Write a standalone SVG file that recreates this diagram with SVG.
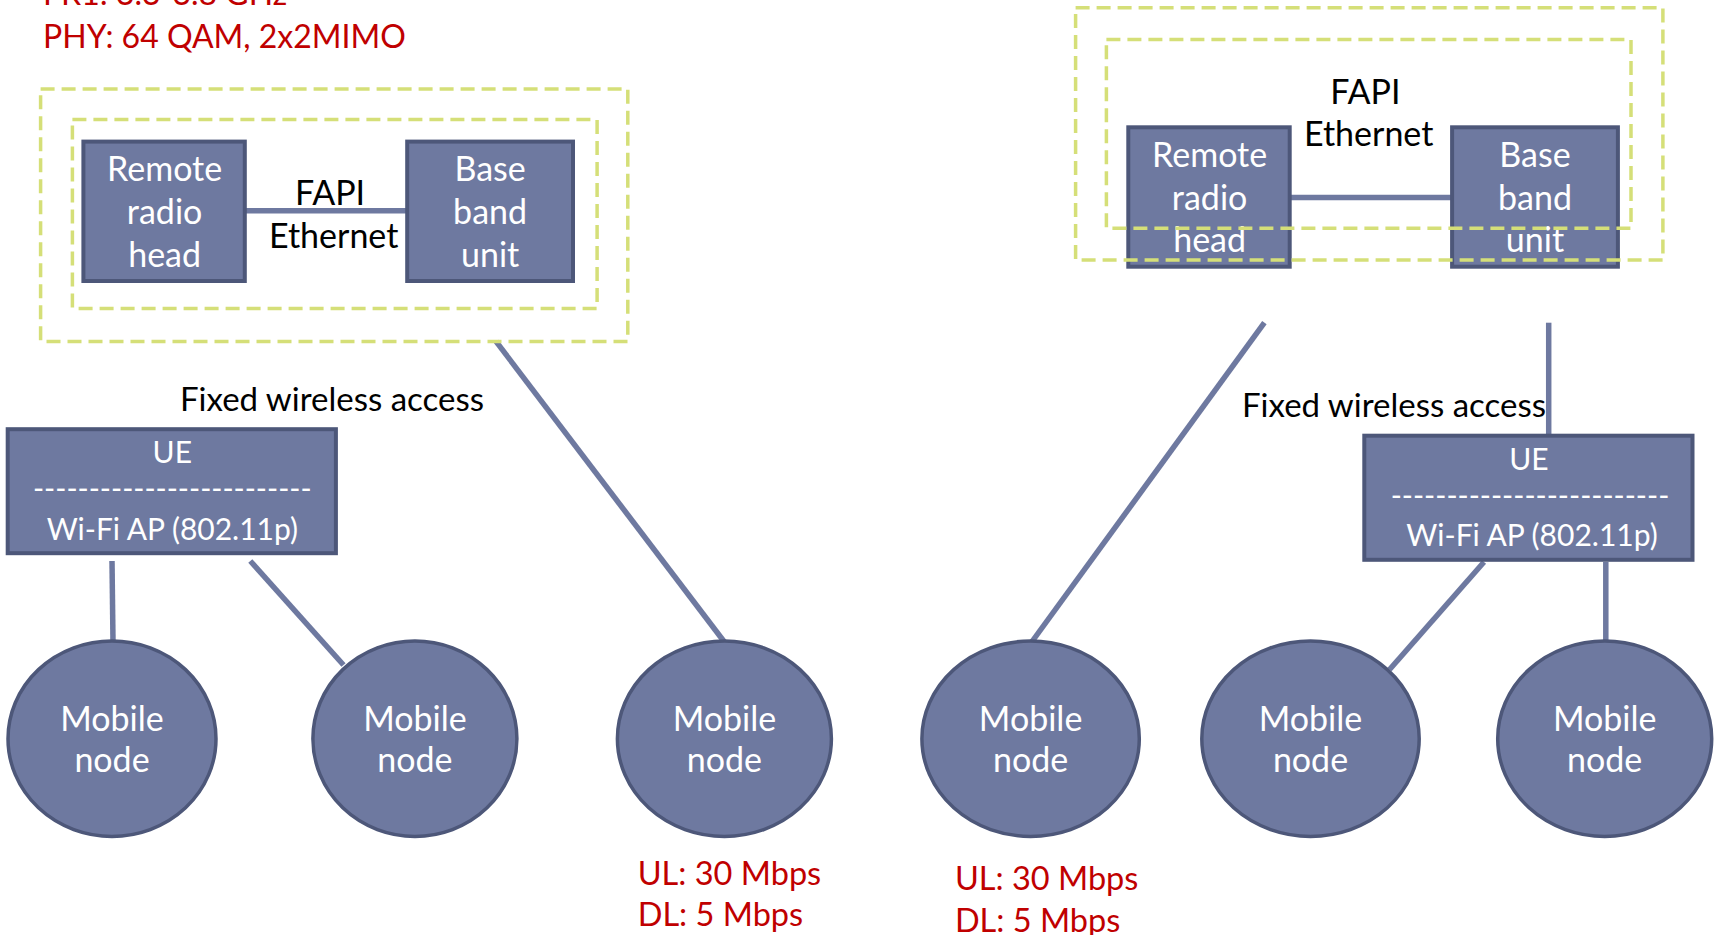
<svg xmlns="http://www.w3.org/2000/svg" width="1721" height="935" viewBox="0 0 1721 935">
  <defs>
    <style>
      .box { fill: #6e79a0; stroke: #4d5779; stroke-width: 4; }
      .node { fill: #6e79a0; stroke: #4d5779; stroke-width: 3.5; }
      .dash { fill: none; stroke: #d5df78; stroke-width: 3.5; stroke-dasharray: 14 7; }
      .conn { stroke: #6e79a0; stroke-width: 5.5; fill: none; stroke-linecap: butt; }
      .wt { font-family: Lato, "Liberation Sans", sans-serif; fill: #ffffff; text-anchor: middle; }
      .bk { font-family: Lato, "Liberation Sans", sans-serif; fill: #000000; text-anchor: middle; }
      .rd { font-family: Lato, "Liberation Sans", sans-serif; fill: #c00000; }
      .big { font-size: 34px; }
      .fwa { font-size: 33px; }
      .ue { font-size: 30px; }
      .rate { font-size: 32.5px; }
      .hdr { font-size: 32px; }
    </style>
  </defs>
  <rect width="1721" height="935" fill="#ffffff"/>

  <g id="header-text">
    <text class="rd hdr" x="43" y="5">FR1: 3.3-3.8 GHz</text>
    <text class="rd hdr" x="43" y="48">PHY: 64 QAM, 2x2MIMO</text>
  </g>

  <g id="connectors">
    <line class="conn" x1="244.8" y1="210.7" x2="407.2" y2="210.7"/>
    <line class="conn" x1="1289.7" y1="197.6" x2="1452.1" y2="197.6"/>
    <line class="conn" x1="112" y1="561" x2="113" y2="642"/>
    <line class="conn" x1="250.3" y1="561" x2="343.5" y2="665"/>
    <line class="conn" x1="496" y1="341.4" x2="724.4" y2="642"/>
    <line class="conn" x1="1264.4" y1="322.7" x2="1031.7" y2="642"/>
    <line class="conn" x1="1548.7" y1="322.7" x2="1548.7" y2="436"/>
    <line class="conn" x1="1484" y1="562" x2="1389.6" y2="669.5"/>
    <line class="conn" x1="1605.8" y1="562" x2="1605.8" y2="642"/>
  </g>

  <g id="left-rrh">
    <rect class="box" x="83.4" y="141.6" width="161.4" height="139.4"/>
    <text class="wt big" x="164.6" y="181">Remote</text>
    <text class="wt big" x="164.6" y="224">radio</text>
    <text class="wt big" x="164.6" y="266.7">head</text>
  </g>
  <g id="left-bbu">
    <rect class="box" x="407.2" y="141.6" width="165.8" height="139.4"/>
    <text class="wt big" x="490.1" y="181">Base</text>
    <text class="wt big" x="490.1" y="224">band</text>
    <text class="wt big" x="490.1" y="266.7">unit</text>
  </g>
  <g id="left-fapi-label">
    <text class="bk big" x="330" y="205">FAPI</text>
    <text class="bk big" x="333.7" y="248">Ethernet</text>
  </g>
  <g id="left-groups">
    <rect class="dash" x="40.6" y="88.9" width="587.2" height="252.5"/>
    <rect class="dash" x="72.4" y="119.6" width="524.7" height="188.8"/>
  </g>

  <g id="right-rrh">
    <rect class="box" x="1128.3" y="127.3" width="161.4" height="139.4"/>
    <text class="wt big" x="1209.6" y="166.8">Remote</text>
    <text class="wt big" x="1209.6" y="209.6">radio</text>
    <text class="wt big" x="1209.6" y="252.4">head</text>
  </g>
  <g id="right-bbu">
    <rect class="box" x="1452.1" y="127.3" width="165.8" height="139.4"/>
    <text class="wt big" x="1535" y="166.8">Base</text>
    <text class="wt big" x="1535" y="209.6">band</text>
    <text class="wt big" x="1535" y="252.4">unit</text>
  </g>
  <g id="right-fapi-label">
    <text class="bk big" x="1365.4" y="104.3">FAPI</text>
    <text class="bk big" x="1368.7" y="146">Ethernet</text>
  </g>
  <g id="right-groups">
    <rect class="dash" x="1075.6" y="7.7" width="587.3" height="252.4"/>
    <rect class="dash" x="1106.4" y="39.5" width="524.6" height="188.8"/>
  </g>

  <g id="left-fwa-label">
    <text class="bk fwa" x="332" y="410.5">Fixed wireless access</text>
  </g>
  <g id="right-fwa-label">
    <text class="bk fwa" x="1394" y="417">Fixed wireless access</text>
  </g>

  <g id="left-ue">
    <rect class="box" x="7.7" y="429.2" width="328.2" height="124"/>
    <text class="wt ue" x="172.3" y="463">UE</text>
    <text class="wt ue" x="172.3" y="499">-------------------------</text>
    <text class="wt ue" x="172.3" y="540">Wi-Fi AP (802.11p)</text>
  </g>
  <g id="right-ue">
    <rect class="box" x="1364.3" y="435.7" width="328.2" height="124.1"/>
    <text class="wt ue" x="1529" y="469.8">UE</text>
    <text class="wt ue" x="1530" y="506">-------------------------</text>
    <text class="wt ue" x="1532" y="545.5">Wi-Fi AP (802.11p)</text>
  </g>

  <g id="mobile-node-1">
    <ellipse class="node" cx="112" cy="738.7" rx="104" ry="97.7"/>
    <text class="wt big" x="112" y="731">Mobile</text>
    <text class="wt big" x="112" y="771.6">node</text>
  </g>
  <g id="mobile-node-2">
    <ellipse class="node" cx="414.9" cy="738.7" rx="102" ry="97.7"/>
    <text class="wt big" x="414.9" y="731">Mobile</text>
    <text class="wt big" x="414.9" y="771.6">node</text>
  </g>
  <g id="mobile-node-3">
    <ellipse class="node" cx="724.4" cy="738.7" rx="107" ry="97.7"/>
    <text class="wt big" x="724.4" y="731">Mobile</text>
    <text class="wt big" x="724.4" y="771.6">node</text>
  </g>
  <g id="mobile-node-4">
    <ellipse class="node" cx="1030.6" cy="738.7" rx="108.7" ry="97.7"/>
    <text class="wt big" x="1030.6" y="731">Mobile</text>
    <text class="wt big" x="1030.6" y="771.6">node</text>
  </g>
  <g id="mobile-node-5">
    <ellipse class="node" cx="1310.5" cy="738.7" rx="108.7" ry="97.7"/>
    <text class="wt big" x="1310.5" y="731">Mobile</text>
    <text class="wt big" x="1310.5" y="771.6">node</text>
  </g>
  <g id="mobile-node-6">
    <ellipse class="node" cx="1604.7" cy="738.7" rx="107" ry="97.7"/>
    <text class="wt big" x="1604.7" y="731">Mobile</text>
    <text class="wt big" x="1604.7" y="771.6">node</text>
  </g>

  <g id="rate-labels">
    <text class="rd rate" x="637.7" y="884.7">UL: 30 Mbps</text>
    <text class="rd rate" x="637.7" y="926.4">DL: 5 Mbps</text>
    <text class="rd rate" x="954.9" y="890">UL: 30 Mbps</text>
    <text class="rd rate" x="954.9" y="931.9">DL: 5 Mbps</text>
  </g>
</svg>
